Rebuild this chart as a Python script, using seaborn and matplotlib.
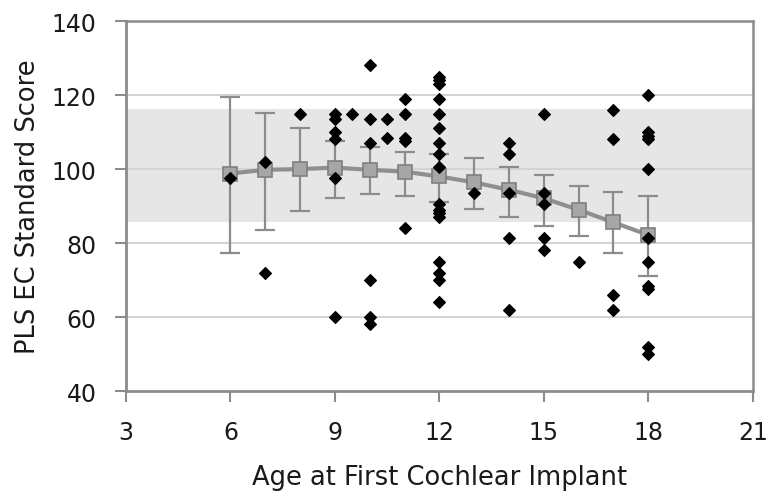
import numpy as np
import pandas as pd
import matplotlib
matplotlib.use("Agg")
import matplotlib.pyplot as plt
import seaborn as sns

# Individual scores, grouped by age at first cochlear implant
AGE_GROUPS = [6, 7, 8, 9, 9.5, 10, 10.5, 11, 12, 13, 14, 15, 16, 17, 18]
SCORES = [
    [97.5],
    [102, 72],
    [115],
    [115, 113.5, 110, 108, 97.5, 60],
    [115],
    [128, 113.5, 107, 70, 60, 58],
    [113.5, 108.5],
    [119, 115, 108.5, 107.5, 84],
    [125, 124, 123, 119, 115, 111, 107, 104, 100.5, 90.5, 89, 88, 87, 75, 72, 70, 64],
    [93.5],
    [107, 104, 93.5, 81.5, 62],
    [115, 93.5, 90.5, 81.5, 78],
    [75],
    [116, 108, 66, 62],
    [120, 110, 109, 108, 100, 81.5, 75, 68.5, 67.5, 52, 50],
]

# Fitted means with confidence limits
FIT_AGES = [6, 7, 8, 9, 10, 11, 12, 13, 14, 15, 16, 17, 18]
FIT_MEAN = [98.8, 99.8, 100.0, 100.4, 99.8, 99.3, 98.0, 96.4, 94.4, 92.1, 89.0, 85.6, 82.2]
FIT_UPPER = [119.5, 115.1, 111.0, 107.6, 105.9, 104.7, 104.1, 103.0, 100.6, 98.4, 95.5, 93.9, 92.7]
FIT_LOWER = [77.3, 83.5, 88.6, 92.2, 93.2, 92.8, 91.0, 89.3, 87.0, 84.7, 81.8, 77.3, 71.0]

# Normal range band
BAND_LOW, BAND_HIGH = 85.6, 116.2

X_TICKS = [3, 6, 9, 12, 15, 18, 21]
Y_TICKS = [40, 60, 80, 100, 120, 140]

pts = pd.DataFrame(
    [(a, s) for a, grp in zip(AGE_GROUPS, SCORES) for s in grp],
    columns=["age", "score"],
)
fit = pd.DataFrame({"age": FIT_AGES, "mean": FIT_MEAN,
                    "upper": FIT_UPPER, "lower": FIT_LOWER})

sns.set_style("white")
plt.rcParams["font.family"] = ["DejaVu Sans"]

fig = plt.figure(figsize=(7.69, 5.02), dpi=100)
ax = fig.add_axes([0.1638, 0.219, 0.815, 0.737])

ax.axhspan(BAND_LOW, BAND_HIGH, color="#e6e6e6", zorder=0, lw=0)
for y in Y_TICKS[1:-1]:
    ax.axhline(y, color="#d4d4d4", lw=1.5, zorder=1)

ax.errorbar(fit["age"], fit["mean"],
            yerr=[fit["mean"] - fit["lower"], fit["upper"] - fit["mean"]],
            fmt="none", ecolor="#8c8c8c", elinewidth=1.6, capsize=7,
            capthick=1.6, zorder=2)
sns.lineplot(data=fit, x="age", y="mean", ax=ax, color="#8f8f8f", lw=3,
             marker="s", markersize=10, markerfacecolor="#a6a6a6",
             markeredgecolor="#7f7f7f", markeredgewidth=1.2, zorder=3)
sns.scatterplot(data=pts, x="age", y="score", ax=ax, color="black",
                marker="D", s=36, edgecolor="black", linewidth=0.9, zorder=4)

ax.set_xlim(3, 21)
ax.set_ylim(40, 140)
ax.set_xticks(X_TICKS)
ax.set_yticks(Y_TICKS)
ax.set_xlabel("Age at First Cochlear Implant", fontsize=18.5, color="#1a1a1a",
              labelpad=14)
ax.set_ylabel("PLS EC Standard Score", fontsize=18.5, color="#1a1a1a",
              labelpad=8)
ax.tick_params(axis="both", direction="out", length=8, width=1.5,
               color="#8c8c8c", labelsize=17, labelcolor="#1a1a1a", pad=13)
ax.tick_params(axis="y", left=True)
ax.tick_params(axis="x", bottom=True)

for side in ["left", "bottom"]:
    ax.spines[side].set_color("#8c8c8c")
    ax.spines[side].set_linewidth(2)
for side in ["top", "right"]:
    ax.spines[side].set_visible(True)
    ax.spines[side].set_color("#8c8c8c")
    ax.spines[side].set_linewidth(1.8)

fig.savefig("out.png", dpi=100)
plt.close(fig)
